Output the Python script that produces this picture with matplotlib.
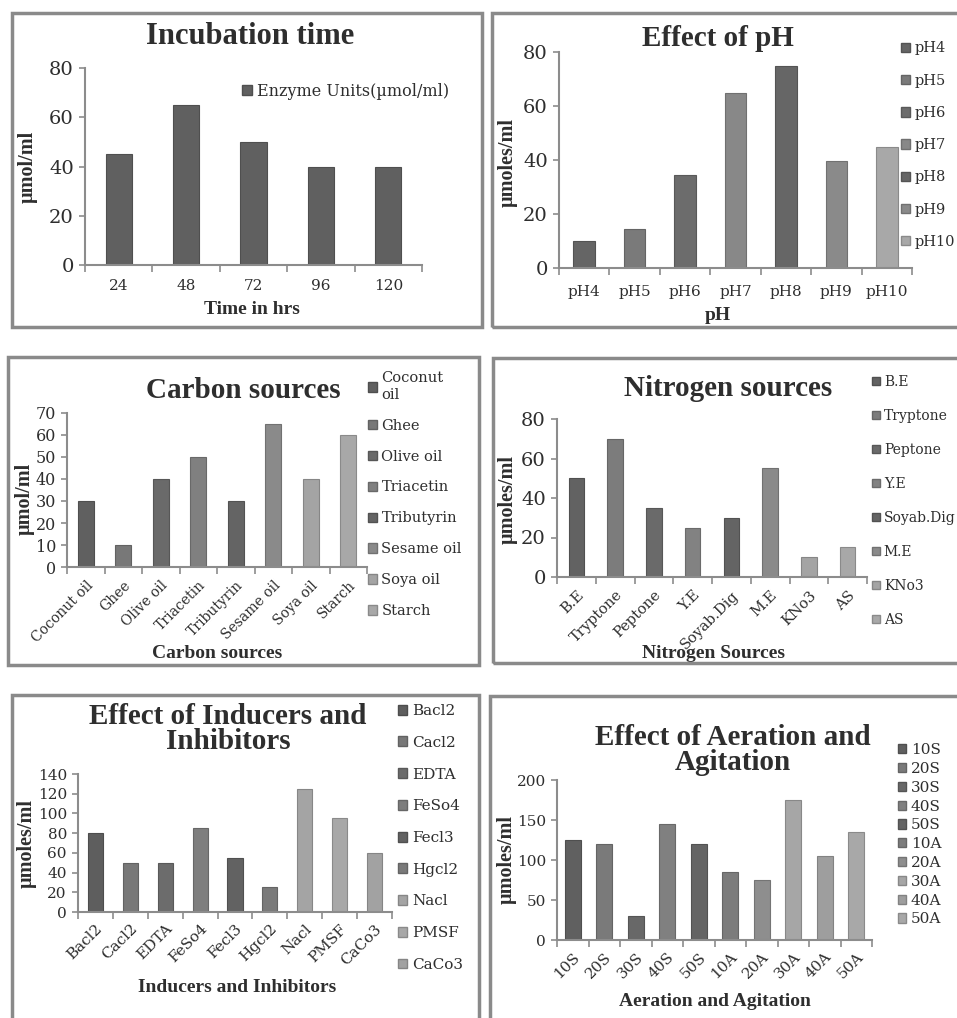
import matplotlib
matplotlib.use("Agg")
import matplotlib.pyplot as plt
from matplotlib.patches import Rectangle, Patch
from matplotlib.colors import to_rgb

# --- data -------------------------------------------------------------
time_hrs = ["24", "48", "72", "96", "120"]
time_units = [45, 65, 50, 40, 40]

ph_labels = ["pH4", "pH5", "pH6", "pH7", "pH8", "pH9", "pH10"]
ph_values = [10, 14.5, 34.5, 65, 75, 39.5, 45]
ph_colors = ["#656565", "#7a7a7a", "#6c6c6c", "#888888", "#666666", "#8a8a8a", "#a8a8a8"]

carbon_labels = ["Coconut oil", "Ghee", "Olive oil", "Triacetin", "Tributyrin",
                 "Sesame oil", "Soya oil", "Starch"]
carbon_legend = ["Coconut\noil", "Ghee", "Olive oil", "Triacetin", "Tributyrin",
                 "Sesame oil", "Soya oil", "Starch"]
carbon_values = [30, 10, 40, 50, 30, 65, 40, 60]
carbon_colors = ["#606060", "#787878", "#6a6a6a", "#808080", "#646464", "#8a8a8a", "#a4a4a4", "#a8a8a8"]

nitrogen_labels = ["B.E", "Tryptone", "Peptone", "Y.E", "Soyab.Dig", "M.E", "KNo3", "AS"]
nitrogen_values = [50, 70, 35, 25, 30, 55, 10, 15]
nitrogen_colors = ["#626262", "#7c7c7c", "#6a6a6a", "#828282", "#646464", "#8a8a8a", "#a4a4a4", "#a8a8a8"]

inducer_labels = ["Bacl2", "Cacl2", "EDTA", "FeSo4", "Fecl3", "Hgcl2", "Nacl", "PMSF", "CaCo3"]
inducer_values = [80, 50, 50, 85, 55, 25, 125, 95, 60]
inducer_colors = ["#5e5e5e", "#787878", "#6c6c6c", "#7e7e7e", "#626262", "#7a7a7a",
                  "#a4a4a4", "#a8a8a8", "#a2a2a2"]

aeration_labels = ["10S", "20S", "30S", "40S", "50S", "10A", "20A", "30A", "40A", "50A"]
aeration_values = [125, 120, 30, 145, 120, 85, 75, 175, 105, 135]
aeration_colors = ["#606060", "#7a7a7a", "#686868", "#808080", "#646464", "#7c7c7c",
                   "#8e8e8e", "#a6a6a6", "#9e9e9e", "#a8a8a8"]

# --- layout helpers (pixel coordinates, origin top-left) ---------------
W, H = 957, 1018
fig = plt.figure(figsize=(W / 100, H / 100), dpi=100)

SERIF = "DejaVu Serif"
HEAD = "Liberation Serif"
TXT = "#2e2e2e"
AXC = "#8c8c8c"


def fx(x):
    return x / W


def fy(y):
    return 1 - y / H


def frame(x0, y0, x1, y1):
    fig.add_artist(Rectangle((fx(x0), fy(y1)), (x1 - x0) / W, (y1 - y0) / H,
                             transform=fig.transFigure, fill=False,
                             ec="#8a8a8a", lw=2.5))


def darker(c, k=0.82):
    r, g, b = to_rgb(c)
    return (r * k, g * k, b * k)


def panel(box, labels, values, colors, ylim, yticks, width, ytick_fs, xtick_fs,
          rotate=False, xpad=10):
    x0, y0, x1, y1 = box
    ax = fig.add_axes([fx(x0), fy(y1), (x1 - x0) / W, (y1 - y0) / H])
    pos = list(range(len(labels)))
    ax.bar(pos, values, width=width, color=colors,
           edgecolor=[darker(c) for c in colors], linewidth=0.8, zorder=2)
    ax.set_xlim(-0.5, len(labels) - 0.5)
    ax.set_ylim(*ylim)
    ax.set_yticks(yticks)
    ax.set_yticklabels([str(t) for t in yticks], fontsize=ytick_fs,
                       family=SERIF, color=TXT)
    ax.set_xticks(pos)
    if rotate:
        ax.set_xticklabels(labels, fontsize=xtick_fs, family=SERIF, color=TXT,
                           rotation=45, ha="right", va="top",
                           rotation_mode="anchor")
    else:
        ax.set_xticklabels(labels, fontsize=xtick_fs, family=SERIF, color=TXT)
    ax.set_xticks([p - 0.5 for p in pos] + [len(labels) - 0.5], minor=True)
    ax.tick_params(axis="x", which="major", length=0, pad=xpad)
    ax.tick_params(axis="x", which="minor", length=5, width=1.2, color=AXC)
    ax.tick_params(axis="y", length=4, width=1.2, color=AXC, pad=4)
    for s in ("top", "right"):
        ax.spines[s].set_visible(False)
    for s in ("left", "bottom"):
        ax.spines[s].set_color(AXC)
        ax.spines[s].set_linewidth(1.5)
    return ax


def title(x, y, s, fs=21):
    fig.text(fx(x), fy(y), s, ha="center", va="center", family=HEAD,
             weight="bold", fontsize=fs, color=TXT, linespacing=0.95)


def xlab(ax, x, y, s, fs=14):
    ax.set_xlabel(s, family=HEAD, weight="bold", fontsize=fs, color=TXT,
                  va="center", ha="center")
    ax.xaxis.set_label_coords(fx(x), fy(y), transform=fig.transFigure)


def ylab(ax, x, y, s, fs=14.5):
    ax.set_ylabel(s, family=HEAD, weight="bold", fontsize=fs, color=TXT,
                  va="center", ha="center")
    ax.yaxis.set_label_coords(fx(x), fy(y), transform=fig.transFigure)


def legend(ax, labels, colors, x, y, fs, spacing, hsize=0.62):
    handles = [Patch(facecolor=c, edgecolor=darker(c)) for c in colors]
    fs_px = fs * 100 / 72
    row_h = fs_px * 1.17
    ls = max(0.0, (spacing - row_h) / fs_px)
    ax.legend(handles, labels, loc="upper left",
              bbox_to_anchor=(fx(x), fy(y - row_h / 2)),
              bbox_transform=fig.transFigure, frameon=False, borderpad=0,
              borderaxespad=0, handlelength=hsize, handleheight=hsize,
              handletextpad=0.3, labelspacing=ls,
              prop={"family": SERIF, "size": fs}, labelcolor=TXT)


# --- frames ------------------------------------------------------------
frame(12, 13, 482, 327)
frame(492, 13, 975, 327)
frame(8, 357, 479, 665)
frame(493, 358, 975, 663)
frame(12, 695, 479, 1030)
frame(490, 696, 975, 1030)

# Incubation time
ax1 = panel((85, 68, 422, 265), time_hrs, time_units, ["#606060"] * 5,
            (0, 80), [0, 20, 40, 60, 80], 0.39, 14, 11, xpad=10)
title(250, 36, "Incubation time", 22)
xlab(ax1, 252, 310, "Time in hrs")
ylab(ax1, 28, 167, "µmol/ml")
legend(ax1, ["Enzyme Units(µmol/ml)"], ["#606060"], 242, 92, 11.5, 20)

# pH
ax2 = panel((559, 52, 912, 268), ph_labels, ph_values, ph_colors,
            (0, 80), [0, 20, 40, 60, 80], 0.43, 14, 11, xpad=12)
title(718, 38, "Effect of pH")
xlab(ax2, 718, 315, "pH")
ylab(ax2, 508, 163, "µmoles/ml")
legend(ax2, ph_labels, ph_colors, 901, 50, 10.5, 35.3)

# carbon sources
ax3 = panel((67, 413, 367, 567), carbon_labels, carbon_values, carbon_colors,
            (0, 70), list(range(0, 71, 10)), 0.43, 11.5, 10, rotate=True, xpad=8)
title(243, 390, "Carbon sources")
xlab(ax3, 217, 653, "Carbon sources")
ylab(ax3, 25, 499, "µmol/ml")
legend(ax3, carbon_legend, carbon_colors, 368, 380, 10.5, 34)

# nitrogen sources
ax4 = panel((557, 419, 867, 577), nitrogen_labels, nitrogen_values, nitrogen_colors,
            (0, 80), [0, 20, 40, 60, 80], 0.4, 14, 10.5, rotate=True, xpad=8)
title(728, 389, "Nitrogen sources")
xlab(ax4, 713, 653, "Nitrogen Sources")
ylab(ax4, 508, 499, "µmoles/ml")
legend(ax4, nitrogen_labels, nitrogen_colors, 872, 383, 10, 36.3, 0.55)

# inducers and inhibitors
ax5 = panel((78, 774, 392, 912), inducer_labels, inducer_values, inducer_colors,
            (0, 140), list(range(0, 141, 20)), 0.43, 11, 11, rotate=True, xpad=7)
title(228, 729, "Effect of Inducers and\nInhibitors")
xlab(ax5, 237, 988, "Inducers and Inhibitors")
ylab(ax5, 27, 844, "µmoles/ml")
legend(ax5, inducer_labels, inducer_colors, 398, 713, 11, 35.6)

# aeration and agitation
ax6 = panel((557, 780, 872, 940), aeration_labels, aeration_values, aeration_colors,
            (0, 200), [0, 50, 100, 150, 200], 0.5, 11, 11, rotate=True, xpad=7)
title(733, 750, "Effect of Aeration and\nAgitation")
xlab(ax6, 715, 1002, "Aeration and Agitation")
ylab(ax6, 507, 860, "µmoles/ml")
legend(ax6, aeration_labels, aeration_colors, 898, 752, 11, 22.7, 0.55)

fig.savefig("out.png", dpi=100, facecolor="white")
